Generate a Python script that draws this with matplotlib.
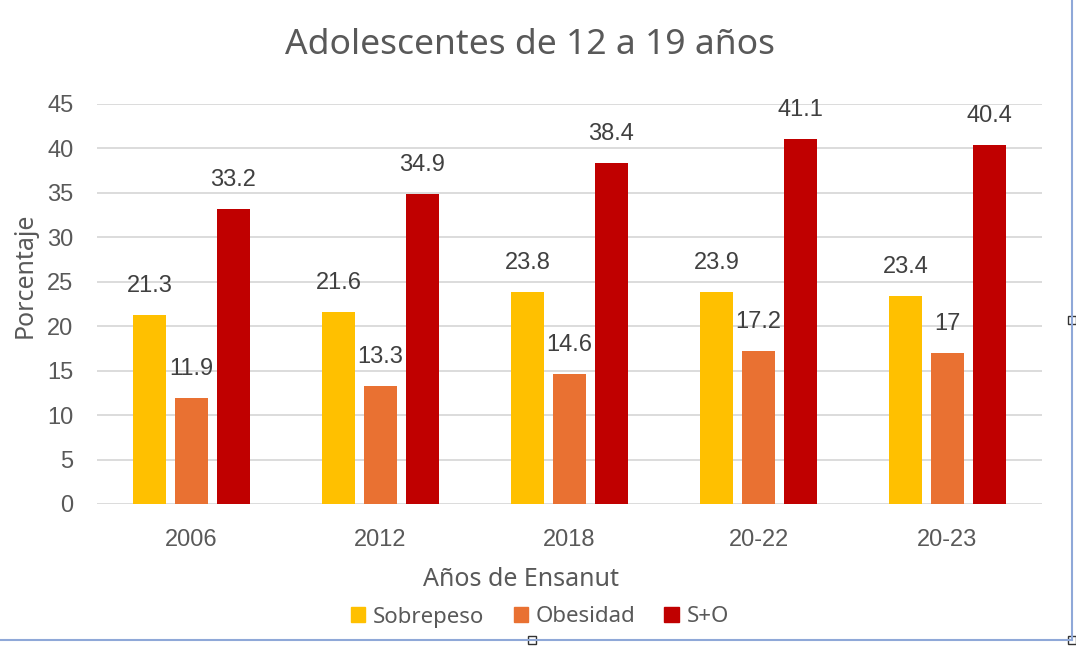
import matplotlib
matplotlib.use("Agg")
import matplotlib.pyplot as plt
import numpy as np
from matplotlib.patches import Rectangle
from matplotlib.lines import Line2D

categories = ["2006", "2012", "2018", "20-22", "20-23"]
sobrepeso = [21.3, 21.6, 23.8, 23.9, 23.4]
obesidad = [11.9, 13.3, 14.6, 17.2, 17]
so = [33.2, 34.9, 38.4, 41.1, 40.4]
series_names = ["Sobrepeso", "Obesidad", "S+O"]
colors = ["#FFC000", "#E97132", "#C00000"]
yticks = [0, 5, 10, 15, 20, 25, 30, 35, 40, 45]

W, H = 1076, 646
fig = plt.figure(figsize=(W / 100, H / 100), dpi=100)
fig.patch.set_facecolor("white")

ax = fig.add_axes([97 / W, 1 - 504 / H, (1042 - 97) / W, (504 - 104) / H])
txt = "#595959"
num_font = ["Liberation Sans", "DejaVu Sans"]
ttl_font = ["Noto Sans", "DejaVu Sans"]

x = np.arange(len(categories))
bw = 0.175
step = 0.222
for i, (vals, c) in enumerate(zip([sobrepeso, obesidad, so], colors)):
    pos = x + (i - 1) * step
    bars = ax.bar(pos, vals, width=bw, color=c, zorder=3, label=series_names[i])
    for b, v in zip(bars, vals):
        ax.annotate(f"{v:g}", (b.get_x() + b.get_width() / 2, v),
                    xytext=(0, 29), textcoords="offset pixels",
                    ha="center", va="center", fontsize=17, color="#404040",
                    family=num_font)

ax.set_xlim(-0.5, len(categories) - 0.5)
ax.set_ylim(0, 45)
ax.set_yticks(yticks)
ax.set_yticklabels([str(t) for t in yticks], family=num_font, fontsize=17, color=txt)
ax.set_xticks(x)
ax.set_xticklabels(categories, family=num_font, fontsize=17, color=txt)
ax.tick_params(axis="y", length=0, pad=17)
ax.tick_params(axis="x", length=0, pad=18)
ax.grid(axis="y", color="#D9D9D9", linewidth=1.3, zorder=0)
for s in ax.spines.values():
    s.set_visible(False)

fig.text(530 / W, 1 - 45 / H, "Adolescentes de 12 a 19 años", ha="center", va="center",
         fontsize=25.5, color=txt, family=ttl_font)
fig.text(25 / W, 1 - 275 / H, "Porcentaje", rotation=90, ha="center", va="center",
         fontsize=18, color=txt, family=ttl_font)
fig.text(521 / W, 1 - 580 / H, "Años de Ensanut", ha="center", va="center",
         fontsize=18, color=txt, family=ttl_font)

handles = [Rectangle((0, 0), 1, 1, color=c) for c in colors]
leg = fig.legend(handles, series_names, loc="center", bbox_to_anchor=(540 / W, 1 - 617 / H),
                 ncol=3, frameon=False, handlelength=0.65, handleheight=0.65,
                 handletextpad=0.35, columnspacing=1.3,
                 prop={"family": ttl_font, "size": 16})
for t in leg.get_texts():
    t.set_color(txt)

# chart border and selection handles
bc = "#8FA8D8"
fig.add_artist(Line2D([1072 / W, 1072 / W], [1 - 640 / H, 1.0], color=bc, lw=1.5))
fig.add_artist(Line2D([0, 1072 / W], [1 - 640 / H, 1 - 640 / H], color=bc, lw=1.5))
for (hx, hy) in [(1072, 320), (532, 640), (1072, 640)]:
    fig.add_artist(Rectangle(((hx - 4) / W, 1 - (hy + 4) / H), 8 / W, 8 / H,
                             facecolor="white", edgecolor="#333333", lw=1))

fig.savefig("out.png", dpi=100)
